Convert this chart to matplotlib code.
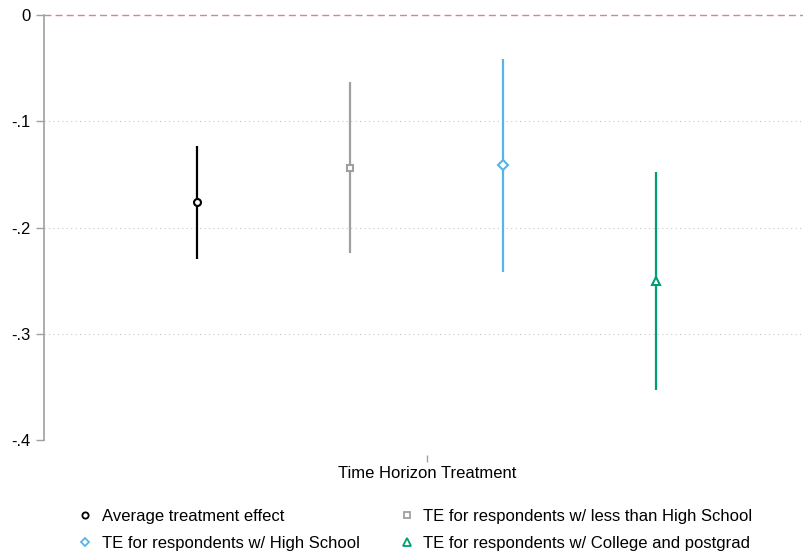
import matplotlib
matplotlib.use("Agg")
import matplotlib.pyplot as plt
from matplotlib.lines import Line2D

plt.rcParams['font.family'] = ['Liberation Sans', 'DejaVu Sans']

labels = ["Average treatment effect",
          "TE for respondents w/ less than High School",
          "TE for respondents w/ High School",
          "TE for respondents w/ College and postgrad"]
estimates = [-0.176, -0.144, -0.141, -0.250]
ci_low = [-0.230, -0.224, -0.242, -0.353]
ci_high = [-0.123, -0.063, -0.041, -0.148]
offsets = [-0.3, -0.1, 0.1, 0.3]
colors = ["#000000", "#a0a0a0", "#56b4e9", "#009e73"]
markers = ["o", "s", "D", "^"]
msizes = [5, 5, 5, 6]
category = ["Time Horizon Treatment"]
yticks = [0, -0.1, -0.2, -0.3, -0.4]
ytick_labels = ["0", "-.1", "-.2", "-.3", "-.4"]

fig = plt.figure(figsize=(8.04, 5.52), dpi=100)
W, H = 804, 552
PT = 72 / 100  # points per pixel
ax = fig.add_axes([44 / W, 1 - 440 / H, 760 / W, 425 / H])

ax.spines['bottom'].set_position(('outward', 15 * PT))
ax.spines['bottom'].set_visible(False)
for s in ['top', 'right']:
    ax.spines[s].set_visible(False)
ax.spines['left'].set_color('#a0a0a0')
ax.spines['left'].set_linewidth(1.2)

for i in range(4):
    x = offsets[i]
    ax.plot([x, x], [ci_low[i], ci_high[i]], color=colors[i], lw=1.6,
            solid_capstyle='butt', zorder=3)
    ax.plot([x], [estimates[i]], marker=markers[i], ms=msizes[i],
            mfc='white', mec=colors[i], mew=1.5, ls='none', zorder=4)

ax.set_xlim(-383 / 765, 377 / 765)
ax.set_ylim(-0.4, 0)

for y in yticks[1:]:
    ax.axhline(y, color='#c8c8c8', lw=0.8, ls=(0, (1, 3)), zorder=1)
ax.axhline(0, color='#d27fb5', lw=1.0, ls=(0, (5, 3)), zorder=2, clip_on=False)

ax.set_yticks(yticks)
ax.set_yticklabels(ytick_labels, fontsize=12)
ax.set_xticks([0])
ax.set_xticklabels(category, fontsize=12)

ax.tick_params(axis='y', color='#a0a0a0', length=8 * PT, width=1.0, pad=5 * PT)
ax.tick_params(axis='x', color='#a0a0a0', length=7 * PT, width=1.0, pad=4 * PT)

handles = [Line2D([], [], marker=markers[i], ms=msizes[i] - 0.5, mfc='white',
                  mec=colors[i], mew=1.3, ls='none') for i in range(4)]
order = [0, 2, 1, 3]
fig.legend([handles[i] for i in order], [labels[i] for i in order],
           loc='upper left', bbox_to_anchor=(77 / W, 1 - 509 / H), ncol=2,
           frameon=False, fontsize=12, handlelength=1.0, handletextpad=0.5,
           columnspacing=2.3, labelspacing=0.72, borderpad=0, borderaxespad=0)

fig.savefig("out.png", dpi=100)
